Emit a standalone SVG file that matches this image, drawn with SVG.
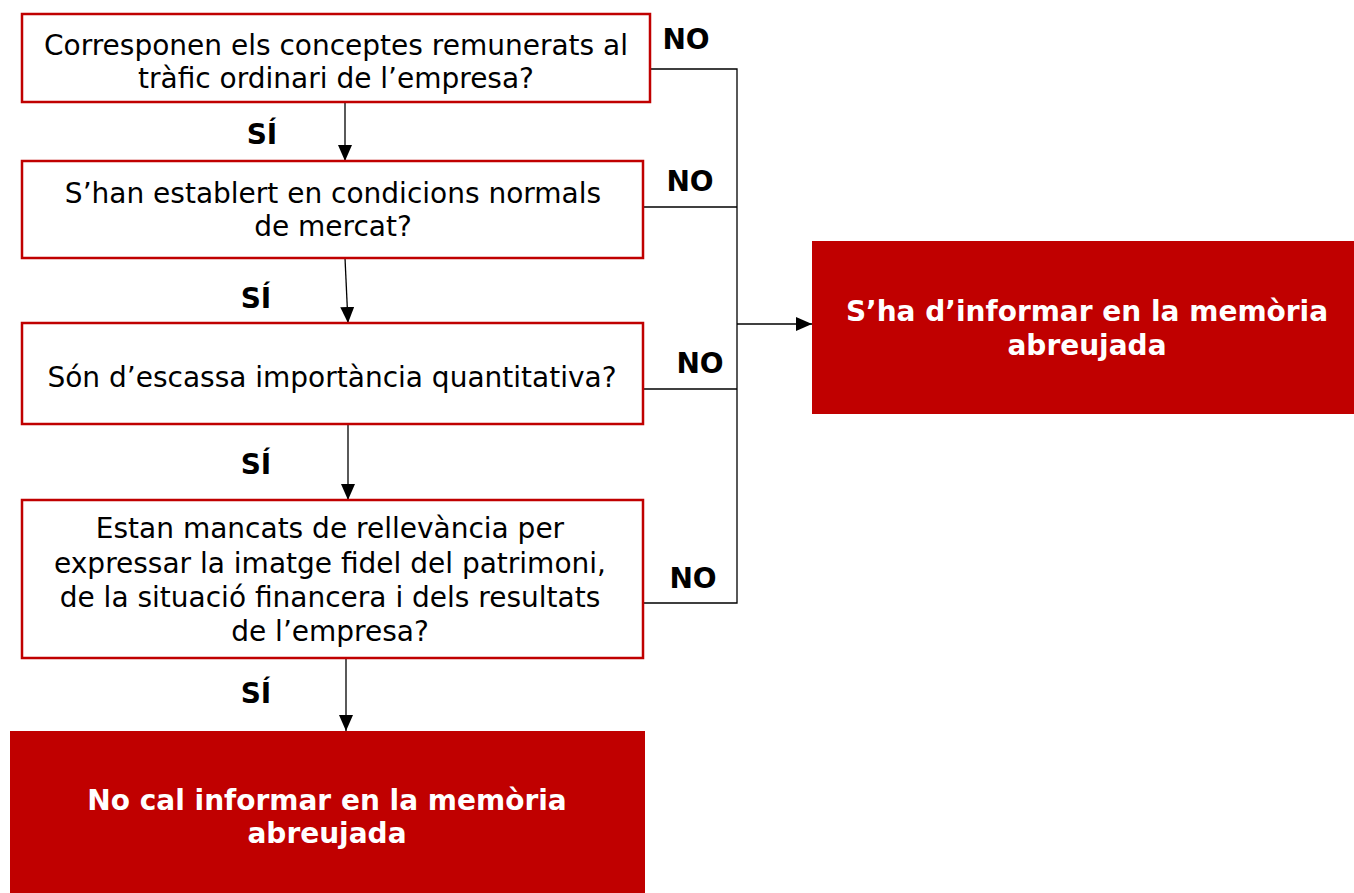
<svg xmlns="http://www.w3.org/2000/svg" width="1354" height="893" viewBox="0 0 1354 893">
<style>
.q{fill:#fff;stroke:#C00000;stroke-width:2.5}
.t{fill:#C00000}
.qt{font-family:"DejaVu Sans",Verdana,sans-serif;font-size:28px;fill:#000;text-anchor:middle}
.tt{font-family:"DejaVu Sans",Verdana,sans-serif;font-size:28px;font-weight:bold;fill:#fff;text-anchor:middle}
.lb{font-family:"DejaVu Sans",Verdana,sans-serif;font-size:28px;font-weight:bold;fill:#000;text-anchor:middle}
.c{fill:none;stroke:#000;stroke-width:1.3}
</style>
<defs>
<marker id="ah" markerWidth="16" markerHeight="14" refX="16" refY="7" orient="auto" markerUnits="userSpaceOnUse">
<path d="M0,0 L16,7 L0,14 Z" fill="#000"/>
</marker>
</defs>
<g id="connectors">
<line class="c" x1="345" y1="102" x2="345" y2="161" marker-end="url(#ah)"/>
<line class="c" x1="345" y1="258" x2="348" y2="323" marker-end="url(#ah)"/>
<line class="c" x1="348" y1="424" x2="348" y2="500" marker-end="url(#ah)"/>
<line class="c" x1="346" y1="658" x2="346" y2="731" marker-end="url(#ah)"/>
<polyline class="c" points="650,69 737,69 737,603 643,603"/>
<line class="c" x1="643" y1="207" x2="737" y2="207"/>
<line class="c" x1="643" y1="389" x2="737" y2="389"/>
<line class="c" x1="737" y1="324" x2="812" y2="324" marker-end="url(#ah)"/>
</g>
<g id="labels">
<text class="lb" x="262" y="144">SÍ</text>
<text class="lb" x="256" y="308">SÍ</text>
<text class="lb" x="256" y="474">SÍ</text>
<text class="lb" x="256" y="703">SÍ</text>
<text class="lb" x="686" y="49">NO</text>
<text class="lb" x="690" y="191">NO</text>
<text class="lb" x="700" y="373">NO</text>
<text class="lb" x="693" y="588">NO</text>
</g>
<g id="q1">
<rect class="q" x="22" y="14" width="628" height="88"/>
<text class="qt" x="336" y="55">Corresponen els conceptes remunerats al</text>
<text class="qt" x="336" y="88">tràfic ordinari de l’empresa?</text>
</g>
<g id="q2">
<rect class="q" x="22" y="161" width="621" height="97"/>
<text class="qt" x="333" y="203">S’han establert en condicions normals</text>
<text class="qt" x="333" y="236">de mercat?</text>
</g>
<g id="q3">
<rect class="q" x="22" y="323" width="621" height="101"/>
<text class="qt" x="332" y="387">Són d’escassa importància quantitativa?</text>
</g>
<g id="q4">
<rect class="q" x="22" y="500" width="621" height="158"/>
<text class="qt" x="330" y="538">Estan mancats de rellevància per</text>
<text class="qt" x="330" y="573">expressar la imatge fidel del patrimoni,</text>
<text class="qt" x="330" y="607">de la situació financera i dels resultats</text>
<text class="qt" x="330" y="641">de l’empresa?</text>
</g>
<g id="yes">
<rect class="t" x="10" y="731" width="635" height="162"/>
<text class="tt" x="327" y="810">No cal informar en la memòria</text>
<text class="tt" x="327" y="843">abreujada</text>
</g>
<g id="no">
<rect class="t" x="812" y="241" width="542" height="173"/>
<text class="tt" x="1087" y="321">S’ha d’informar en la memòria</text>
<text class="tt" x="1087" y="355">abreujada</text>
</g>
</svg>
